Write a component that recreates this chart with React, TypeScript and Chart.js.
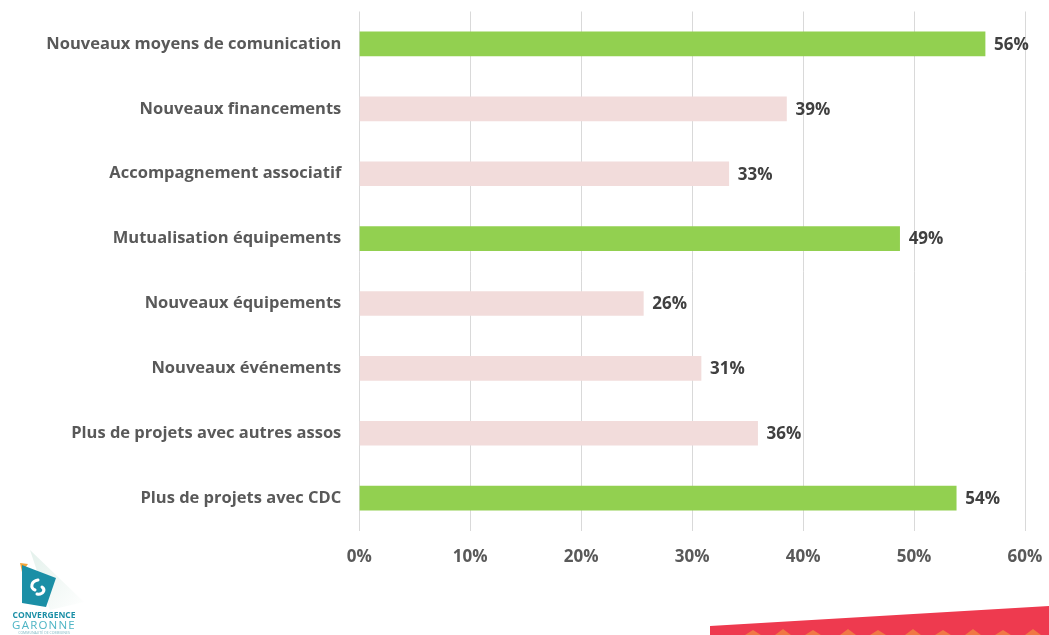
import React, { useEffect, useRef } from "react";
import { Chart, registerables } from "chart.js";

Chart.register(...registerables);

const categories = [
  "Nouveaux moyens de comunication",
  "Nouveaux financements",
  "Accompagnement associatif",
  "Mutualisation équipements",
  "Nouveaux équipements",
  "Nouveaux événements",
  "Plus de projets avec autres assos",
  "Plus de projets avec CDC",
];
const values = [56.4, 38.5, 33.3, 48.7, 25.6, 30.8, 35.9, 53.8];
const highlighted = [true, false, false, true, false, false, false, true];
const xMin = 0;
const xMax = 60;
const xStep = 10;

const GREEN = "#92D050";
const PINK = "#F2DCDB";
const FONT = "'Open Sans', sans-serif";

const valueLabels = {
  id: "valueLabels",
  afterDatasetsDraw(chart: any) {
    const ctx = chart.ctx;
    const meta = chart.getDatasetMeta(0);
    ctx.save();
    ctx.font = `bold 17px ${FONT}`;
    ctx.fillStyle = "#404040";
    ctx.textAlign = "left";
    ctx.textBaseline = "middle";
    meta.data.forEach((bar: any, i: number) => {
      ctx.fillText(Math.round(values[i]) + "%", bar.x + 9, bar.y + 1);
    });
    ctx.restore();
  },
};

function zeroPad(scale: any) {
  scale.paddingLeft = 0;
  scale.paddingRight = 0;
  scale.paddingTop = 0;
  scale.paddingBottom = 0;
}

function Logo() {
  return (
    <svg
      width={120}
      height={95}
      style={{ position: "absolute", left: 0, top: 540 }}
      viewBox="0 0 120 95"
    >
      <defs>
        <linearGradient id="glow" x1="0" y1="0" x2="1" y2="1">
          <stop offset="0" stopColor="#e4f1ec" />
          <stop offset="1" stopColor="#ffffff" />
        </linearGradient>
      </defs>
      <polygon points="30,10 84,62 50,70" fill="url(#glow)" />
      <polygon points="20,23 28,24 22,32" fill="#F4A53A" />
      <polygon points="22,25 56,38 46,67 22,63" fill="#1B8FA6" />
      <path
        d="M38,40 C31,41 30,48 35,50 M37,54 C43,55 46,50 42,47"
        stroke="#ffffff"
        strokeWidth={3}
        fill="none"
        strokeLinecap="round"
      />
      <text
        x={44}
        y={78}
        textAnchor="middle"
        fontFamily="'Open Sans', sans-serif"
        fontWeight="bold"
        fontSize={8.5}
        fill="#1B8FA6"
      >
        CONVERGENCE
      </text>
      <text
        x={44}
        y={89}
        textAnchor="middle"
        fontFamily="'Open Sans', sans-serif"
        fontSize={11.5}
        letterSpacing={1.2}
        fill="#4DB4C4"
      >
        GARONNE
      </text>
      <text
        x={44}
        y={94}
        textAnchor="middle"
        fontFamily="'Open Sans', sans-serif"
        fontSize={3.5}
        fill="#7fb9c4"
      >
        COMMUNAUTÉ DE COMMUNES
      </text>
    </svg>
  );
}

function RedBand() {
  const tri: JSX.Element[] = [];
  const xs = [745, 775, 805, 840, 870, 905, 935, 965, 995, 1025];
  xs.forEach((x, i) => {
    tri.push(
      <polygon
        key={i}
        points={`${x - 700},35 ${x - 700 + 8},${30 - (i % 2)} ${x - 700 + 16},35`}
        fill="#F07845"
      />
    );
  });
  return (
    <svg
      width={349}
      height={35}
      style={{ position: "absolute", left: 700, top: 600 }}
      viewBox="0 0 349 35"
    >
      <polygon points="10,26 349,6 349,35 10,35" fill="#EE3A4F" />
      {tri}
    </svg>
  );
}

export default function App() {
  const canvasRef = useRef<HTMLCanvasElement | null>(null);

  useEffect(() => {
    if (!canvasRef.current) return;
    const chart = new Chart(canvasRef.current, {
      type: "bar",
      data: {
        labels: categories,
        datasets: [
          {
            data: values,
            backgroundColor: highlighted.map((h) => (h ? GREEN : PINK)),
            borderWidth: 0,
            barThickness: 24,
          },
        ],
      },
      options: {
        indexAxis: "y",
        animation: false,
        responsive: true,
        maintainAspectRatio: false,
        layout: { padding: { top: 11.5, right: 24, left: 0, bottom: 0 } },
        plugins: {
          legend: { display: false },
          tooltip: { enabled: false },
        },
        scales: {
          x: {
            min: xMin,
            max: xMax,
            ticks: {
              stepSize: xStep,
              callback: (v: any) => v + "%",
              color: "#595959",
              font: { family: FONT, size: 17, weight: "bold" },
              padding: 16,
              maxRotation: 0,
            },
            grid: { color: "#D9D9D9", lineWidth: 1, drawTicks: false },
            border: { display: false },
            afterFit: (scale: any) => {
              scale.height = 104.4;
              zeroPad(scale);
            },
          },
          y: {
            ticks: {
              color: "#595959",
              font: { family: FONT, size: 16.5, weight: "bold" },
              padding: 18,
            },
            grid: { display: false, drawTicks: false },
            border: { display: false },
            afterFit: (scale: any) => {
              scale.width = 359.3;
              zeroPad(scale);
            },
          },
        },
      },
      plugins: [valueLabels],
    });
    return () => chart.destroy();
  }, []);

  return (
    <div
      style={{
        position: "fixed",
        left: 0,
        top: 0,
        width: 1049,
        height: 635,
        background: "#ffffff",
        overflow: "hidden",
      }}
    >
      <canvas ref={canvasRef} />
      <Logo />
      <RedBand />
    </div>
  );
}
